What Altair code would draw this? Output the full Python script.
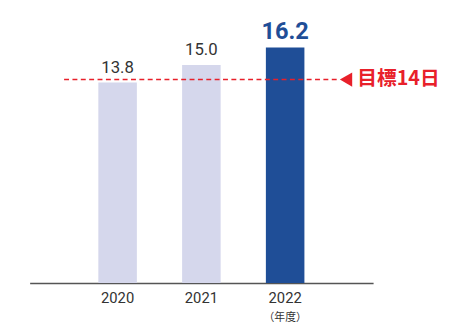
import altair as alt
import pandas as pd

years = ["2020", "2021", "2022"]
values = [13.8, 15.0, 16.2]
bar_colors = ["#d5d7ec", "#d5d7ec", "#1f4e97"]
label_colors = ["#333333", "#333333", "#1f4e97"]
target = 14
target_label = "目標14日"
unit_label = "（年度）"

df = pd.DataFrame({
    "year": years, "value": values, "bc": bar_colors, "lc": label_colors,
})
tdf = pd.DataFrame({"t": [target], "label": [target_label]})
udf = pd.DataFrame({"year": [years[-1]], "u": [unit_label]})

W, H = 349, 266
x = alt.X("year:N", sort=years,
          scale=alt.Scale(paddingInner=0.54, paddingOuter=0.82),
          axis=alt.Axis(title=None, labelAngle=0, ticks=False, domainColor="#555555",
                        domainWidth=1.5, labelFont="Roboto", labelFontSize=15,
                        labelColor="#333333", labelPadding=8, grid=False))
yscale = alt.Scale(domain=[0, 18], nice=False)

base = alt.Chart(df)
bars = base.mark_bar().encode(
    x=x,
    y=alt.Y("value:Q", scale=yscale, axis=None),
    color=alt.Color("bc:N", scale=None),
)
small = alt.Chart(df.iloc[:2]).mark_text(font="Roboto", fontSize=17, baseline="alphabetic", dy=-10).encode(
    x=alt.X("year:N", sort=years), y=alt.Y("value:Q", scale=yscale),
    text=alt.Text("value:Q", format=".1f"), color=alt.Color("lc:N", scale=None),
)
big = alt.Chart(df.iloc[2:]).mark_text(font="Roboto", fontSize=24, fontWeight="bold", baseline="alphabetic", dy=-9).encode(
    x=alt.X("year:N", sort=years), y=alt.Y("value:Q", scale=yscale),
    text=alt.Text("value:Q", format=".1f"), color=alt.Color("lc:N", scale=None),
)
rule = alt.Chart(tdf).mark_rule(stroke="#e8202a", strokeDash=[5, 3.5], strokeWidth=1.4).encode(
    y=alt.Y("t:Q", scale=yscale), x=alt.value(35), x2=alt.value(312),
)
tri = alt.Chart(tdf).mark_point(shape="triangle-left", filled=True, fill="#e8202a", size=210, opacity=1).encode(
    y=alt.Y("t:Q", scale=yscale), x=alt.value(321.5),
)
tlabel = alt.Chart(tdf).mark_text(align="left", baseline="middle", font="Noto Sans CJK JP",
                                   fontSize=20, fontWeight="bold", color="#e8202a").encode(
    y=alt.Y("t:Q", scale=yscale), x=alt.value(333), text="label:N",
)
unit = alt.Chart(udf).mark_text(font="Noto Sans CJK JP", fontSize=11, color="#333333", baseline="middle").encode(
    x=alt.X("year:N", sort=years), y=alt.value(H + 35), text="u:N",
)

chart = alt.layer(bars, small, big, rule, tri, tlabel, unit).properties(
    width=W, height=H,
    autosize=alt.AutoSizeParams(type="none"),
    padding={"left": 22, "top": 11, "right": 69, "bottom": 39},
).configure_view(stroke=None)

chart.save("out.html", embed_options={"renderer": "svg", "actions": False})
